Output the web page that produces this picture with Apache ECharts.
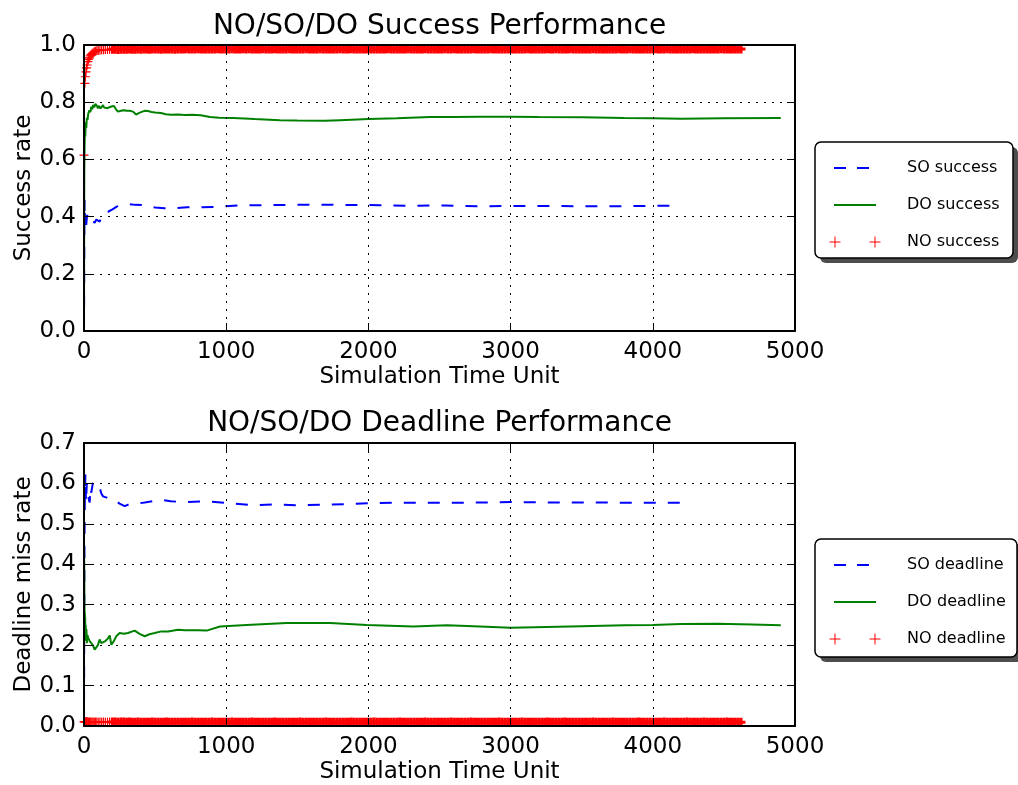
<!DOCTYPE html>
<html>
<head>
<meta charset="utf-8">
<script src="https://cdn.jsdelivr.net/npm/echarts@6/dist/echarts.min.js"></script>
<style>
  html, body { margin: 0; padding: 0; background: #ffffff; }
  #chart { width: 1018px; height: 785px; }
</style>
</head>
<body>
<div id="chart"></div>
<script>
// ---- data: [simulation time, rate] ----
const xTicks = [0, 1000, 2000, 3000, 4000, 5000];
const successTicks = [0, 0.2, 0.4, 0.6, 0.8, 1.0];
const deadlineTicks = [0, 0.1, 0.2, 0.3, 0.4, 0.5, 0.6, 0.7];

const soSuccess = [[0,0],[2,0.3],[4,0.458],[6,0.41],[8,0.38],[12,0.35],[16,0.353],[22,0.406],[30,0.39],[40,0.4],[51,0.395],[62,0.385],[75,0.378],[87,0.39],[98,0.385],[110,0.382],[128,0.405],[145,0.417],[169,0.417],[200,0.425],[230,0.435],[263,0.44],[310,0.444],[360,0.441],[415,0.44],[450,0.435],[500,0.432],[567,0.429],[637,0.429],[724,0.4325],[821,0.433],[921,0.434],[1097,0.439],[1300,0.44],[1519,0.4415],[1800,0.441],[2081,0.44],[2300,0.438],[2539,0.439],[2785,0.436],[3000,0.437],[3300,0.437],[3600,0.436],[3900,0.437],[4150,0.438]];

const doSuccess = [[0,0],[1,0.35],[2,0.55],[4,0.64],[6,0.7],[9,0.68],[12,0.73],[16,0.71],[20,0.745],[25,0.738],[30,0.76],[38,0.772],[45,0.765],[51,0.784],[58,0.775],[64,0.79],[72,0.782],[80,0.794],[86,0.796],[92,0.786],[98,0.778],[104,0.787],[110,0.79],[116,0.778],[122,0.772],[128,0.784],[134,0.79],[142,0.781],[150,0.775],[164,0.779],[178,0.776],[192,0.785],[211,0.787],[225,0.775],[239,0.767],[260,0.77],[280,0.772],[300,0.77],[320,0.77],[345,0.767],[366,0.757],[385,0.762],[410,0.767],[430,0.77],[450,0.769],[475,0.766],[500,0.764],[541,0.762],[575,0.758],[612,0.756],[660,0.757],[708,0.755],[760,0.756],[820,0.754],[886,0.748],[950,0.746],[1050,0.745],[1200,0.741],[1378,0.737],[1500,0.736],[1695,0.735],[1800,0.737],[2000,0.741],[2200,0.744],[2433,0.748],[2600,0.748],[2785,0.749],[3000,0.749],[3200,0.748],[3500,0.747],[3800,0.745],[4000,0.744],[4200,0.742],[4500,0.744],[4900,0.745]];

const soDeadline = [[0,0],[3,0.45],[6,0.56],[10,0.622],[14,0.553],[20,0.6],[28,0.602],[34,0.56],[40,0.553],[46,0.59],[51,0.577],[62,0.6],[75,0.605],[87,0.598],[98,0.602],[110,0.59],[122,0.575],[134,0.568],[160,0.565],[181,0.56],[216,0.559],[250,0.55],[286,0.544],[330,0.55],[391,0.551],[427,0.553],[480,0.556],[544,0.559],[610,0.556],[684,0.554],[710,0.554],[851,0.556],[1027,0.551],[1188,0.546],[1329,0.548],[1505,0.546],[1660,0.547],[1847,0.549],[1997,0.551],[2173,0.552],[2504,0.552],[2665,0.552],[3000,0.554],[3300,0.553],[3600,0.553],[3900,0.552],[4200,0.552]];

const doDeadline = [[0,0.463],[2,0.38],[3,0.3],[4,0.29],[5,0.25],[6,0.28],[7,0.23],[8,0.27],[10,0.22],[12,0.25],[14,0.21],[17,0.24],[20,0.205],[24,0.225],[30,0.218],[40,0.21],[51,0.206],[62,0.2],[75,0.189],[87,0.187],[98,0.2],[110,0.214],[122,0.205],[134,0.206],[150,0.21],[165,0.215],[181,0.224],[192,0.201],[210,0.21],[227,0.222],[251,0.23],[280,0.228],[309,0.23],[356,0.236],[391,0.228],[427,0.222],[460,0.227],[497,0.23],[544,0.234],[591,0.234],[661,0.238],[708,0.237],[800,0.237],[863,0.236],[956,0.246],[1144,0.25],[1425,0.2545],[1730,0.2545],[1988,0.25],[2315,0.246],[2551,0.249],[2785,0.246],[3000,0.243],[3250,0.245],[3500,0.247],[3800,0.249],[4000,0.25],[4200,0.252],[4450,0.253],[4700,0.251],[4900,0.249]];

// NO runs: irregular log times at start-up, then one record every noLogStep units
const noStartTimes = [0,6,10,14,18,22,27,32,38,44,50,57,64,72,80,90,100,112,124,137,150,165,180];
const noStartSuccess = [0.615,0.866,0.889,0.906,0.92,0.93,0.942,0.95,0.955,0.962,0.966,0.97,0.973,0.976,0.978,0.98,0.981,0.982,0.983,0.983,0.984,0.984,0.985];
const noStartDeadline = [0.010,0.011,0.010,0.010,0.011,0.010,0.010,0.009,0.010,0.010,0.009,0.010,0.010,0.009,0.010,0.010,0.009,0.010,0.009,0.010,0.009,0.009,0.010];
const noLogStart = 200;
const noLogStep = 20;
const noLogSuccess = [
  0.985,0.985,0.984,0.985,0.985,0.985,0.986,0.985,0.985,0.986,0.985,0.986,
  0.986,0.985,0.986,0.986,0.986,0.985,0.986,0.986,0.986,0.986,0.985,0.986,
  0.986,0.986,0.987,0.986,0.986,0.986,0.987,0.986,0.986,0.986,0.986,0.986,
  0.986,0.987,0.986,0.986,0.986,0.986,0.987,0.986,0.986,0.986,0.987,0.986,
  0.987,0.986,0.986,0.986,0.986,0.987,0.986,0.986,0.986,0.987,0.986,0.986,
  0.986,0.986,0.987,0.986,0.986,0.986,0.986,0.986,0.987,0.986,0.986,0.986,
  0.986,0.987,0.986,0.986,0.986,0.986,0.986,0.986,0.987,0.986,0.986,0.986,
  0.987,0.986,0.986,0.986,0.986,0.986,0.987,0.986,0.986,0.986,0.986,0.986,
  0.986,0.987,0.986,0.986,0.986,0.986,0.986,0.986,0.987,0.986,0.986,0.986,
  0.986,0.986,0.987,0.986,0.986,0.986,0.986,0.986,0.986,0.987,0.986,0.986,
  0.987,0.986,0.986,0.986,0.986,0.986,0.986,0.987,0.986,0.986,0.986,0.986,
  0.986,0.987,0.986,0.986,0.986,0.986,0.986,0.986,0.987,0.986,0.986,0.986,
  0.986,0.986,0.987,0.986,0.986,0.986,0.986,0.986,0.986,0.987,0.986,0.986,
  0.987,0.986,0.986,0.986,0.986,0.987,0.986,0.986,0.986,0.986,0.986,0.986,
  0.986,0.987,0.986,0.986,0.986,0.986,0.986,0.986,0.986,0.986,0.987,0.986,
  0.986,0.986,0.987,0.986,0.986,0.986,0.986,0.986,0.986,0.986,0.986,0.987,
  0.986,0.986,0.986,0.987,0.986,0.986,0.986,0.986,0.986,0.986,0.986,0.986,
  0.987,0.986,0.986,0.986,0.986,0.986,0.986,0.986,0.986,0.986,0.987,0.986,
  0.986,0.986,0.986,0.986,0.986,0.986
];
const noLogDeadline = [
  0.010,0.010,0.009,0.010,0.010,0.009,0.010,0.009,0.009,0.010,0.009,0.009,
  0.009,0.009,0.010,0.009,0.009,0.009,0.009,0.010,0.009,0.009,0.009,0.009,
  0.009,0.009,0.009,0.009,0.010,0.009,0.009,0.009,0.009,0.009,0.009,0.010,
  0.009,0.009,0.009,0.009,0.009,0.009,0.010,0.009,0.009,0.009,0.009,0.009,
  0.009,0.010,0.009,0.009,0.009,0.009,0.009,0.009,0.009,0.010,0.009,0.009,
  0.009,0.009,0.009,0.009,0.009,0.009,0.010,0.009,0.009,0.009,0.009,0.009,
  0.009,0.009,0.009,0.010,0.009,0.009,0.009,0.009,0.009,0.009,0.009,0.009,
  0.010,0.009,0.009,0.009,0.009,0.009,0.009,0.009,0.010,0.009,0.009,0.009,
  0.009,0.009,0.009,0.009,0.009,0.010,0.009,0.009,0.009,0.009,0.009,0.009,
  0.009,0.009,0.010,0.009,0.009,0.009,0.009,0.009,0.009,0.009,0.009,0.010,
  0.009,0.009,0.009,0.009,0.009,0.009,0.010,0.009,0.009,0.009,0.009,0.009,
  0.009,0.009,0.009,0.009,0.010,0.009,0.009,0.009,0.009,0.009,0.009,0.009,
  0.010,0.009,0.009,0.009,0.009,0.009,0.009,0.009,0.009,0.010,0.009,0.009,
  0.009,0.009,0.009,0.010,0.009,0.009,0.009,0.009,0.009,0.009,0.009,0.009,
  0.009,0.010,0.009,0.009,0.009,0.009,0.009,0.009,0.010,0.009,0.009,0.009,
  0.009,0.009,0.009,0.009,0.009,0.010,0.009,0.009,0.009,0.009,0.009,0.009,
  0.009,0.009,0.010,0.009,0.009,0.009,0.009,0.009,0.009,0.009,0.010,0.009,
  0.009,0.009,0.009,0.009,0.010,0.009,0.009,0.009,0.009,0.009,0.009,0.009,
  0.010,0.009,0.009,0.009,0.009,0.009
];

// ---- styling ----
const FONT = 'DejaVu Sans';
const BLUE = '#0000ff', GREEN = '#008000', RED = '#ff0000';
const PLUS = 'path://M0,6L12,6M6,0L6,12';
const GRID_LINE = { color: '#000', width: 1, type: [2, 6] };

// pair the NO log times with their values; the packed steady-state records
// overlap into a solid band, the sparse start-up ones stay thin crosses
function noSeries(startValues, logValues) {
  const pts = noStartTimes.map((t, i) => ({ value: [t, startValues[i]], itemStyle: { borderWidth: 1.2 } }));
  logValues.forEach((v, i) => pts.push({ value: [noLogStart + i * noLogStep, v] }));
  return pts;
}
const noSuccess = noSeries(noStartSuccess, noLogSuccess);
const noDeadline = noSeries(noStartDeadline, noLogDeadline);

function bottomAxis(gridIndex) {
  return {
    type: 'value', gridIndex, position: 'bottom', min: xTicks[0], max: xTicks[xTicks.length - 1], interval: 1000,
    name: 'Simulation Time Unit', nameLocation: 'middle', nameGap: 35, nameMoveOverlap: false,
    nameTextStyle: { fontFamily: FONT, fontSize: 23, color: '#000' },
    axisLine: { show: true, onZero: false, lineStyle: { color: '#000', width: 2 } },
    axisTick: { show: true, inside: true, length: 8, lineStyle: { color: '#000', width: 1 } },
    axisLabel: { fontFamily: FONT, fontSize: 23, color: '#000', margin: 10, formatter: v => String(v) },
    splitLine: { show: true, lineStyle: GRID_LINE },
    z: 5
  };
}
function topAxis(gridIndex) {
  return {
    type: 'value', gridIndex, position: 'top', min: xTicks[0], max: xTicks[xTicks.length - 1], interval: 1000,
    axisLine: { show: true, onZero: false, lineStyle: { color: '#000', width: 2 } },
    axisTick: { show: true, inside: true, length: 8, lineStyle: { color: '#000', width: 1 } },
    axisLabel: { show: false }, splitLine: { show: false }, z: 5
  };
}
function leftAxis(gridIndex, ticks, name) {
  return {
    type: 'value', gridIndex, position: 'left', min: ticks[0], max: ticks[ticks.length - 1], interval: ticks[1] - ticks[0],
    name, nameLocation: 'middle', nameGap: 48, nameMoveOverlap: false,
    nameTextStyle: { fontFamily: FONT, fontSize: 23, color: '#000' },
    axisLine: { show: true, onZero: false, lineStyle: { color: '#000', width: 2 } },
    axisTick: { show: true, inside: true, length: 8, lineStyle: { color: '#000', width: 1 } },
    axisLabel: { fontFamily: FONT, fontSize: 23, color: '#000', margin: 8, formatter: v => v.toFixed(1) },
    splitLine: { show: true, lineStyle: GRID_LINE },
    z: 5
  };
}
function rightAxis(gridIndex, ticks) {
  return {
    type: 'value', gridIndex, position: 'right', min: ticks[0], max: ticks[ticks.length - 1], interval: ticks[1] - ticks[0],
    axisLine: { show: true, onZero: false, lineStyle: { color: '#000', width: 2 } },
    axisTick: { show: true, inside: true, length: 8, lineStyle: { color: '#000', width: 1 } },
    axisLabel: { show: false }, splitLine: { show: false }, z: 5
  };
}

function lineSeries(name, data, color, dashed, axisIdx) {
  return {
    name, type: 'line', data, xAxisIndex: axisIdx, yAxisIndex: axisIdx,
    showSymbol: false, symbol: 'none', animation: false, z: 2,
    lineStyle: { color, width: 2, type: dashed ? [12, 12] : 'solid' }
  };
}
function plusSeries(name, data, axisIdx) {
  return {
    name, type: 'scatter', data, xAxisIndex: axisIdx, yAxisIndex: axisIdx,
    symbol: PLUS, symbolSize: 9, animation: false, z: 3, clip: true,
    itemStyle: { color: 'rgba(0,0,0,0)', borderColor: RED, borderWidth: 3, opacity: 1 }
  };
}

// matplotlib-style boxed legend with a drop shadow
function legendBox(x, y, w, h, labels) {
  const els = [
    { type: 'rect', shape: { x: x + 5, y: y + 5, width: w, height: h, r: 6 }, style: { fill: '#4d4d4d' }, z: 100 },
    { type: 'rect', shape: { x, y, width: w, height: h, r: 6 }, style: { fill: '#fff', stroke: '#000', lineWidth: 1.5 }, z: 101 }
  ];
  const x1 = x + 19, x2 = x + 61, tx = x + 92;
  const rows = [y + 26, y + 63, y + 100];
  els.push({ type: 'line', shape: { x1, y1: rows[0], x2, y2: rows[0] }, style: { stroke: BLUE, lineWidth: 2, lineDash: [12, 11] }, z: 102 });
  els.push({ type: 'line', shape: { x1, y1: rows[1], x2, y2: rows[1] }, style: { stroke: GREEN, lineWidth: 2 }, z: 102 });
  [x1 + 1, x2 - 1].forEach(cx => {
    els.push({ type: 'line', shape: { x1: cx - 5.5, y1: rows[2], x2: cx + 5.5, y2: rows[2] }, style: { stroke: RED, lineWidth: 1 }, z: 102 });
    els.push({ type: 'line', shape: { x1: cx, y1: rows[2] - 5.5, x2: cx, y2: rows[2] + 5.5 }, style: { stroke: RED, lineWidth: 1 }, z: 102 });
  });
  labels.forEach((t, i) => els.push({
    type: 'text', x: tx, y: rows[i], z: 102,
    style: { text: t, fontFamily: FONT, fontSize: 16, fill: '#000', align: 'left', verticalAlign: 'middle' }
  }));
  return els;
}

const chart = echarts.init(document.getElementById('chart'), null, { renderer: 'canvas' });
chart.setOption({
  animation: false,
  backgroundColor: '#ffffff',
  title: [
    { text: 'NO/SO/DO Success Performance', left: 439.5, textAlign: 'center', top: 13, padding: 0,
      textStyle: { fontFamily: FONT, fontSize: 28, fontWeight: 'normal', color: '#000' } },
    { text: 'NO/SO/DO Deadline Performance', left: 439.5, textAlign: 'center', top: 410, padding: 0,
      textStyle: { fontFamily: FONT, fontSize: 28, fontWeight: 'normal', color: '#000' } }
  ],
  grid: [
    { left: 84, top: 45, width: 711, height: 286, containLabel: false },
    { left: 84, top: 443, width: 711, height: 286, containLabel: false }
  ],
  xAxis: [bottomAxis(0), bottomAxis(1), topAxis(0), topAxis(1)],
  yAxis: [
    leftAxis(0, successTicks, 'Success rate'),
    leftAxis(1, deadlineTicks, 'Deadline miss rate'),
    rightAxis(0, successTicks),
    rightAxis(1, deadlineTicks)
  ],
  series: [
    lineSeries('SO success', soSuccess, BLUE, true, 0),
    lineSeries('DO success', doSuccess, GREEN, false, 0),
    plusSeries('NO success', noSuccess, 0),
    lineSeries('SO deadline', soDeadline, BLUE, true, 1),
    lineSeries('DO deadline', doDeadline, GREEN, false, 1),
    plusSeries('NO deadline', noDeadline, 1)
  ],
  graphic: [
    ...legendBox(815, 142, 198, 116, ['SO success', 'DO success', 'NO success']),
    ...legendBox(815, 539, 202, 118, ['SO deadline', 'DO deadline', 'NO deadline'])
  ]
});
</script>
</body>
</html>
